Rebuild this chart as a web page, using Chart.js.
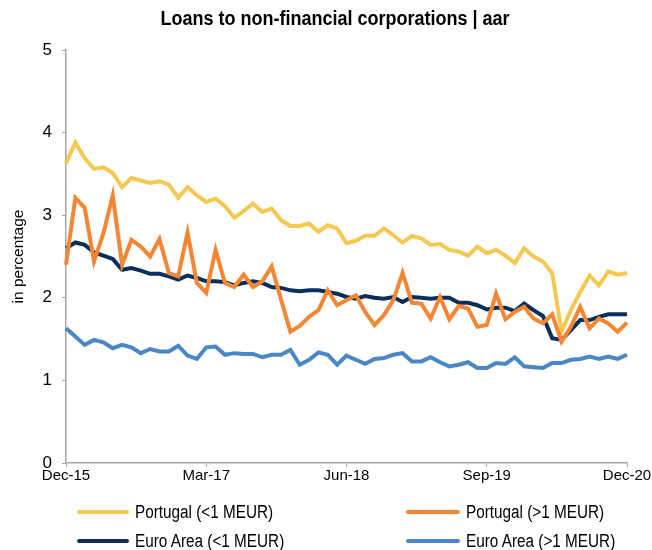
<!DOCTYPE html>
<html>
<head>
<meta charset="utf-8">
<script src="https://cdn.jsdelivr.net/npm/chart.js@4.4.1/dist/chart.umd.min.js"></script>
<style>
  html, body { margin: 0; padding: 0; background: #fff; }
  #wrap { position: relative; width: 652px; height: 550px; }
  #c { position: absolute; left: 0; top: 0; }
  #title { position: absolute; left: 0; top: 6px; width: 670px; text-align: center; font-family: "Liberation Sans", Arial, sans-serif; font-weight: bold; font-size: 20px; line-height: 24px; color: #000; transform: scaleX(0.9); transform-origin: 335px 0; white-space: nowrap; }
  .lg { position: absolute; font-family: "Liberation Sans", Arial, sans-serif; font-size: 18px; color: #000; white-space: nowrap; line-height: 20px; transform: scaleX(0.85); transform-origin: 0 0; }
  .ln { position: absolute; height: 4px; border-radius: 2px; }
</style>
</head>
<body>
<div id="wrap">
  <canvas id="c" width="652" height="550"></canvas>
  <div id="title">Loans to non-financial corporations | aar</div>
  <div id="legend"></div>
</div>
<script>
const categories = [
  "Dec-15","Jan-16","Feb-16","Mar-16","Apr-16","May-16","Jun-16","Jul-16","Aug-16","Sep-16","Oct-16","Nov-16",
  "Dec-16","Jan-17","Feb-17","Mar-17","Apr-17","May-17","Jun-17","Jul-17","Aug-17","Sep-17","Oct-17","Nov-17",
  "Dec-17","Jan-18","Feb-18","Mar-18","Apr-18","May-18","Jun-18","Jul-18","Aug-18","Sep-18","Oct-18","Nov-18",
  "Dec-18","Jan-19","Feb-19","Mar-19","Apr-19","May-19","Jun-19","Jul-19","Aug-19","Sep-19","Oct-19","Nov-19",
  "Dec-19","Jan-20","Feb-20","Mar-20","Apr-20","May-20","Jun-20","Jul-20","Aug-20","Sep-20","Oct-20","Nov-20",
  "Dec-20"
];
const tickLabels = ["Dec-15","Mar-17","Jun-18","Sep-19","Dec-20"];
const yTicks = [0,1,2,3,4,5];

const portugalSmall = [3.63,3.88,3.69,3.56,3.58,3.51,3.34,3.45,3.42,3.39,3.41,3.37,3.21,3.34,3.24,3.16,3.20,3.11,2.97,3.05,
  3.14,3.04,3.08,2.94,2.87,2.87,2.90,2.80,2.88,2.84,2.66,2.69,2.75,2.75,2.84,2.76,2.67,2.75,2.72,2.64,
  2.65,2.58,2.56,2.51,2.62,2.54,2.58,2.51,2.42,2.60,2.50,2.44,2.30,1.59,1.85,2.07,2.27,2.15,2.32,2.28,2.30];
const portugalLarge = [2.40,3.21,3.09,2.44,2.78,3.24,2.40,2.70,2.62,2.50,2.71,2.30,2.26,2.79,2.18,2.06,2.58,2.18,2.13,2.28,
  2.13,2.20,2.38,1.98,1.59,1.66,1.77,1.85,2.09,1.91,1.97,2.03,1.83,1.67,1.79,1.97,2.30,1.94,1.93,1.75,
  2.01,1.74,1.90,1.87,1.65,1.67,2.05,1.74,1.83,1.89,1.75,1.69,1.80,1.47,1.65,1.89,1.63,1.75,1.69,1.59,1.70];
const euroSmall = [2.60,2.67,2.64,2.55,2.51,2.47,2.34,2.36,2.33,2.29,2.29,2.26,2.22,2.27,2.24,2.20,2.20,2.19,2.15,2.18,
  2.20,2.18,2.13,2.12,2.09,2.08,2.09,2.09,2.07,2.05,2.01,1.99,2.02,2.00,1.99,2.01,1.95,2.01,2.00,1.99,
  2.00,2.00,1.94,1.94,1.91,1.86,1.88,1.88,1.84,1.93,1.85,1.78,1.51,1.49,1.61,1.73,1.73,1.77,1.80,1.80,1.80];
const euroLarge = [1.63,1.53,1.43,1.49,1.46,1.39,1.43,1.40,1.33,1.38,1.35,1.35,1.42,1.30,1.26,1.40,1.41,1.31,1.33,1.32,
  1.32,1.28,1.31,1.31,1.37,1.19,1.25,1.34,1.31,1.19,1.30,1.25,1.20,1.26,1.27,1.31,1.33,1.23,1.23,1.28,
  1.22,1.17,1.19,1.22,1.15,1.15,1.21,1.20,1.28,1.17,1.16,1.15,1.21,1.21,1.25,1.26,1.29,1.26,1.29,1.26,1.31];

const seriesNames = ["Portugal (<1 MEUR)","Portugal (>1 MEUR)","Euro Area (<1 MEUR)","Euro Area (>1 MEUR)"];
const seriesColors = ["#F5C851","#F58634","#0B2F5B","#4A87C7"];
const seriesData = [portugalSmall, portugalLarge, euroSmall, euroLarge];

const FONT = "'Liberation Sans', Arial, sans-serif";
const AXIS = "#a6a6a6";

const datasets = seriesNames.map((n, k) => ({
  label: n,
  data: seriesData[k],
  borderColor: seriesColors[k],
  backgroundColor: seriesColors[k],
  borderWidth: 4,
  pointRadius: 0,
  tension: 0,
  fill: false
}));
datasets[0].order = 4; datasets[2].order = 2; datasets[1].order = 1; datasets[3].order = 3;

new Chart(document.getElementById('c'), {
  type: 'line',
  data: { labels: categories, datasets },
  options: {
    responsive: false,
    animation: false,
    layout: { padding: { left: 0, right: 25, top: 50, bottom: 60 } },
    plugins: {
      legend: { display: false },
      tooltip: { enabled: false },
      title: { display: false }
    },
    scales: {
      x: {
        type: 'category',
        offset: false,
        border: { color: AXIS, width: 1.5 },
        grid: {
          drawOnChartArea: false,
          drawTicks: true,
          tickLength: 4,
          color: (ctx) => tickLabels.includes(categories[ctx.index]) ? AXIS : 'rgba(0,0,0,0)'
        },
        ticks: {
          autoSkip: false,
          maxRotation: 0,
          minRotation: 0,
          padding: 0,
          color: "#000",
          font: { family: FONT, size: 15 },
          callback: (v, i) => tickLabels.includes(categories[i]) ? categories[i] : ''
        },
        afterFit: (s) => { s.height = 27; }
      },
      y: {
        min: 0, max: 5,
        border: { color: AXIS, width: 1.5 },
        grid: { drawOnChartArea: false, drawTicks: true, tickLength: 4, color: AXIS },
        ticks: {
          stepSize: 1,
          padding: 10,
          color: "#000",
          font: { family: FONT, size: 17 },
          callback: (v) => yTicks.includes(v) ? String(v) : ''
        },
        title: {
          display: true,
          text: "in percentage",
          color: "#000",
          font: { family: FONT, size: 15.5 },
          padding: { top: 9, bottom: 0 }
        },
        afterFit: (s) => { s.width = 66; }
      }
    }
  }
});

const lg = document.getElementById('legend');
const pos = [[77, 135, 502], [406, 466, 502], [77, 135, 531], [406, 466, 531]];
seriesNames.forEach((n, k) => {
  const ln = document.createElement('div');
  ln.className = 'ln';
  ln.style.left = pos[k][0] + 'px';
  ln.style.top = (pos[k][2] + 8) + 'px';
  ln.style.width = (pos[k][1] - pos[k][0] - 6) + 'px';
  ln.style.background = seriesColors[k];
  lg.appendChild(ln);
  const d = document.createElement('div');
  d.className = 'lg';
  d.style.left = pos[k][1] + 'px';
  d.style.top = pos[k][2] + 'px';
  d.textContent = n;
  lg.appendChild(d);
});
</script>
</body>
</html>
